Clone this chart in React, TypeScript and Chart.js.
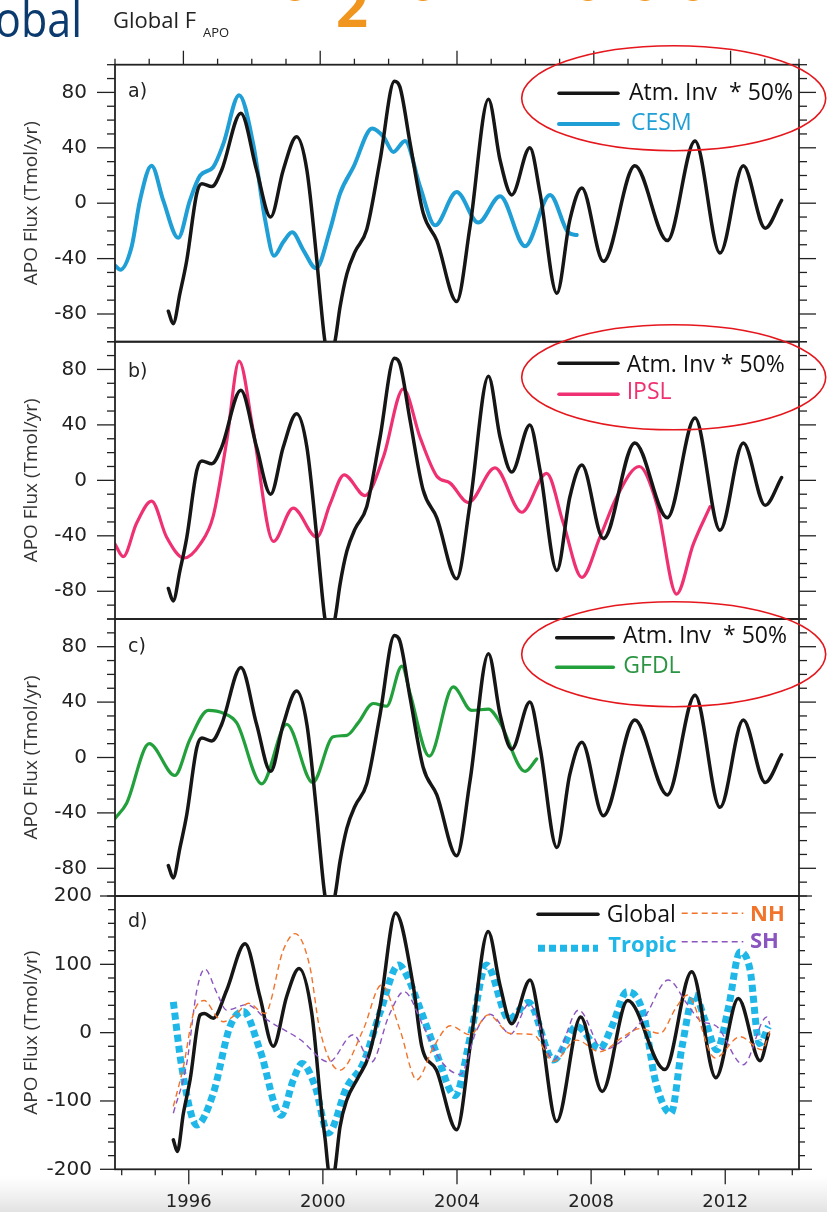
import React, { useEffect, useRef } from "react";
import { Chart, registerables } from "chart.js";

Chart.register(...registerables);

const W = 827;
const H = 1212;

// ---- axis ticks ----
const xTickYears = [1996, 2000, 2004, 2008, 2012];
const yTicksABC = [-80, -40, 0, 40, 80];
const yTicksD = [-200, -100, 0, 100, 200];

// ---- panels a-c : Atm. Inv * 50% (black) ----
const atmYears = [1995.56, 1995.7, 1995.9, 1996.1, 1996.39, 1996.54, 1996.83, 1997.12, 1997.68, 1998.14, 1998.55, 1998.92, 1999.31, 1999.61, 1999.9, 1999.99, 2000.14, 2000.28, 2000.43, 2000.58, 2000.78, 2001.02, 2001.36, 2001.75, 2002.17, 2002.33, 2002.63, 2003.01, 2003.41, 2003.99, 2004.38, 2004.92, 2005.26, 2005.6, 2006.13, 2006.43, 2006.92, 2007.3, 2007.65, 2008.28, 2009.2, 2010.15, 2010.96, 2011.69, 2012.37, 2013.01, 2013.49];
const atmValues = [-78, -87, -65, -41, 7, 14, 12, 24, 65, 24, -10, 24, 48, 24, -41, -65, -100, -110, -100, -75, -51, -35, -19, 31, 88, 84, 43, -7, -27, -71, -17, 75, 31, 6, 40, 7, -65, -12, 11, -42, 27, -27, 45, -36, 27, -18, 2];

// ---- panel a : CESM ----
const cesmYears = [1994.0, 1994.15, 1994.49, 1994.73, 1995.07, 1995.41, 1995.85, 1996.19, 1996.49, 1996.87, 1997.17, 1997.63, 1998.04, 1998.39, 1998.65, 1998.92, 1999.18, 1999.51, 1999.88, 2000.29, 2000.58, 2000.97, 2001.52, 2001.85, 2002.14, 2002.48, 2002.92, 2003.36, 2003.99, 2004.62, 2005.26, 2005.99, 2006.72, 2007.25, 2007.5];
const cesmValues = [-45, -48, -31, 2, 27, 2, -25, 2, 20, 26, 43, 78, 43, -12, -38, -28, -21, -34, -47, -19, 7, 26, 54, 48, 37, 45, 12, -16, 8, -14, 5, -31, 6, -21, -23];

// ---- panel b : IPSL ----
const ipslYears = [1994.0, 1994.24, 1994.63, 1995.07, 1995.51, 1996.02, 1996.49, 1996.87, 1997.27, 1997.63, 1998.04, 1998.63, 1999.21, 1999.9, 2000.29, 2000.7, 2001.31, 2001.85, 2002.43, 2002.92, 2003.41, 2003.8, 2004.33, 2005.11, 2005.89, 2006.62, 2007.11, 2007.65, 2008.18, 2008.67, 2009.33, 2009.84, 2010.42, 2010.91, 2011.4];
const ipslValues = [-46, -55, -31, -15, -41, -56, -46, -26, 29, 86, 36, -44, -20, -41, -17, 4, -11, 17, 66, 31, 3, -2, -16, 9, -23, 5, -31, -70, -41, -12, 10, -17, -82, -46, -19];

// ---- panel c : GFDL ----
const gfdlYears = [1994.0, 1994.34, 1995.0, 1995.75, 1996.19, 1996.73, 1997.17, 1997.56, 1998.29, 1999.02, 1999.78, 2000.38, 2000.78, 2001.11, 2001.55, 2001.94, 2002.39, 2002.63, 2003.19, 2003.89, 2004.43, 2004.92, 2005.26, 2005.99, 2006.33];
const gfdlValues = [-44, -33, 10, -13, 13, 34, 32, 25, -19, 24, -18, 15, 16, 25, 39, 37, 66, 46, 1, 51, 34, 35, 25, -10, -1];

// ---- panel d : Global / Tropic / NH / SH ----
const globalYears = [1995.54, 1995.66, 1995.84, 1996.04, 1996.34, 1996.47, 1996.73, 1997.13, 1997.68, 1998.12, 1998.52, 1998.92, 1999.29, 1999.67, 1999.97, 2000.07, 2000.16, 2000.26, 2000.36, 2000.51, 2000.71, 2001.06, 2001.36, 2001.71, 2002.17, 2002.7, 2002.95, 2003.39, 2003.99, 2004.43, 2004.93, 2005.28, 2005.63, 2006.18, 2006.48, 2006.97, 2007.69, 2008.33, 2009.09, 2010.2, 2011.0, 2011.72, 2012.39, 2013.04, 2013.29];
const globalValues = [-157, -174, -118, -69, 26, 28, 21, 62, 130, 53, -20, 53, 94, 28, -118, -157, -200, -222, -200, -138, -99, -65, -35, 40, 175, 67, -20, -55, -142, -6, 148, 70, 13, 77, 12, -130, 23, -86, 47, -54, 89, -66, 50, -41, -2];

const tropicYears = [1995.54, 1995.79, 1996.24, 1996.73, 1997.23, 1997.63, 1998.12, 1998.75, 1999.12, 1999.38, 1999.77, 2000.16, 2000.71, 2001.2, 2001.71, 2002.26, 2002.5, 2002.9, 2003.39, 2003.94, 2004.41, 2004.88, 2005.55, 2006.13, 2006.88, 2007.57, 2008.26, 2008.62, 2009.07, 2009.56, 2009.91, 2010.38, 2010.71, 2011.08, 2011.4, 2011.75, 2012.1, 2012.44, 2012.74, 2013.02, 2013.29];
const tropicValues = [45, -50, -135, -89, 9, 31, -25, -121, -69, -45, -79, -147, -80, -45, 30, 99, 84, 35, -30, -92, -3, 99, 20, 44, -40, 9, -23, 9, 60, 28, -69, -118, -21, 55, 18, -25, 38, 118, 92, -16, 9];

const nhYears = [1995.54, 1995.84, 1996.14, 1996.46, 1996.84, 1997.03, 1997.43, 1997.78, 1998.27, 1998.82, 1999.17, 1999.61, 1999.91, 2000.51, 2001.2, 2001.75, 2002.3, 2002.8, 2003.3, 2003.8, 2004.39, 2004.93, 2005.58, 2006.28, 2006.88, 2007.57, 2008.26, 2008.96, 2009.46, 2010.05, 2010.55, 2010.87, 2011.7, 2012.44, 2013.1, 2013.33];
const nhValues = [-108, -50, 28, 47, 23, 16, 28, 43, 28, 121, 145, 97, 4, -55, 4, 70, 4, -69, -21, 10, -3, 26, -1, -3, -42, -11, -28, -6, 6, -1, 38, 55, -37, -6, -25, 2];

const shYears = [1995.54, 1995.94, 1996.24, 1996.48, 1996.84, 1997.13, 1997.73, 1998.33, 1999.32, 2000.18, 2000.9, 2001.45, 2001.97, 2002.42, 2003.0, 2003.5, 2004.1, 2004.59, 2004.98, 2005.6, 2006.15, 2006.88, 2007.63, 2008.36, 2009.06, 2009.6, 2010.3, 2010.85, 2011.25, 2011.75, 2012.54, 2013.24, 2013.33];
const shValues = [-118, -45, 62, 93, 58, 33, 41, 19, -10, -43, -3, -43, 25, 60, 9, -40, -61, 4, 27, -2, 42, -40, 33, -25, -6, 23, 77, 43, 18, 9, -47, 23, 12];

// ---- colours ----
const BLACK = "#161616";
const CESM = "#1f9fd6";
const IPSL = "#ef3072";
const GFDL = "#22a03c";
const TROPIC = "#1fb6e8";
const NH = "#f2732a";
const SH = "#8b55c0";

const pts = (xs: number[], ys: number[]) => xs.map((x, i) => ({ x, y: ys[i] }));

const ds = (label: string, xs: number[], ys: number[], color: string, width: number, yAxisID: string, xAxisID: string, dash?: number[]) => ({
  label,
  data: pts(xs, ys),
  borderColor: color,
  backgroundColor: color,
  borderWidth: width,
  borderDash: dash || [],
  borderCapStyle: dash ? "butt" : "round",
  borderJoinStyle: "round",
  pointRadius: 0,
  pointHoverRadius: 0,
  fill: false,
  tension: 0.4,
  cubicInterpolationMode: "monotone",
  clip: 0,
  yAxisID,
  xAxisID,
});

const yScale = (weight: number, stackWeight: number, ticksArr: number[], min: number, max: number, tickLength: number, padding: number) => ({
  type: "linear",
  position: "left",
  stack: "panels",
  stackWeight,
  weight,
  min,
  max,
  afterBuildTicks: (s: any) => {
    s.ticks = ticksArr.map((v) => ({ value: v }));
  },
  afterFit: (s: any) => {
    s.width = 115;
  },
  ticks: {
    font: { family: "DejaVu Sans", size: 20 },
    color: "#222",
    padding,
    autoSkip: false,
    callback: (v: any) => String(v),
  },
  grid: { display: false, drawTicks: true, tickLength },
  border: { display: false },
  title: {
    display: true,
    text: "APO Flux (Tmol/yr)",
    font: { family: "Open Sans", size: 19 },
    color: "#333",
    padding: { top: 20, bottom: 0 },
  },
});

const decor = {
  id: "decor",
  beforeDraw(chart: any) {
    const ctx = chart.ctx;
    ctx.save();
    ctx.fillStyle = "#ffffff";
    ctx.fillRect(0, 0, W, H);
    const g = ctx.createLinearGradient(0, 1176, 0, H);
    g.addColorStop(0, "rgba(232,232,232,0)");
    g.addColorStop(1, "rgba(226,226,226,1)");
    ctx.fillStyle = g;
    ctx.fillRect(0, 1176, W, H - 1176);
    ctx.restore();
  },
  afterDraw(chart: any) {
    const ctx = chart.ctx;
    const L = chart.chartArea.left;
    const R = chart.chartArea.right;
    const sc = chart.scales;
    ctx.save();
    const seg = (x1: number, y1: number, x2: number, y2: number) => {
      ctx.beginPath();
      ctx.moveTo(x1, y1);
      ctx.lineTo(x2, y2);
      ctx.stroke();
    };
    ctx.strokeStyle = "#222";
    ctx.lineWidth = 1.3;
    const panels = [
      { s: sc.ya, step: 10, majors: yTicksABC, lMaj: 18, lMin: 8, rMaj: 17, rMin: 8 },
      { s: sc.yb, step: 10, majors: yTicksABC, lMaj: 18, lMin: 8, rMaj: 17, rMin: 8 },
      { s: sc.yc, step: 10, majors: yTicksABC, lMaj: 18, lMin: 8, rMaj: 17, rMin: 8 },
      { s: sc.yd, step: 20, majors: yTicksD, lMaj: 15, lMin: 7, rMaj: 13, rMin: 6 },
    ];
    for (const p of panels) {
      const s = p.s;
      for (let v = s.min; v <= s.max + 1e-6; v += p.step) {
        const y = s.getPixelForValue(v);
        const major = p.majors.includes(v);
        seg(L - (major ? p.lMaj : p.lMin), y, L, y);
        seg(R, y, R + (major ? p.rMaj : p.rMin), y);
      }
    }
    for (let yr = 1994; yr <= 2014; yr++) {
      const major = (yr - 1996) % 4 === 0;
      const xb = sc.x.getPixelForValue(yr);
      seg(xb, sc.yd.bottom, xb, sc.yd.bottom + (major ? 15 : 6));
      const xt = sc.xTop.getPixelForValue(yr);
      seg(xt, sc.ya.top, xt, sc.ya.top - (major ? 14 : 6));
    }
    ctx.lineWidth = 1.8;
    for (const p of panels) ctx.strokeRect(L, p.s.top, R - L, p.s.bottom - p.s.top);

    // panel labels
    ctx.fillStyle = "#222";
    ctx.font = "19px 'DejaVu Sans'";
    ctx.textAlign = "left";
    ctx.textBaseline = "alphabetic";
    ctx.fillText("a)", 128, 96.7);
    ctx.fillText("b)", 128, 376.7);
    ctx.fillText("c)", 128, 651.7);
    ctx.fillText("d)", 128, 926.7);

    const legLine = (x1: number, x2: number, y: number, color: string, w: number, dash?: number[]) => {
      ctx.save();
      ctx.strokeStyle = color;
      ctx.lineWidth = w;
      ctx.setLineDash(dash || []);
      ctx.lineCap = dash ? "butt" : "round";
      seg(x1, y, x2, y);
      ctx.restore();
    };
    const txt = (s: string, x: number, y: number, font: string, color: string) => {
      ctx.font = font;
      ctx.fillStyle = color;
      ctx.fillText(s, x, y);
    };
    const reg = "23px 'Open Sans'";
    const bold = "bold 22px 'Open Sans'";
    // legend a
    legLine(559, 618, 93.3, BLACK, 3.5);
    txt("Atm. Inv  * 50%", 629, 99.5, reg, "#111");
    legLine(559, 618, 124, CESM, 4);
    txt("CESM", 631, 130, reg, CESM);
    // legend b
    legLine(559, 618, 363.3, BLACK, 3.5);
    txt("Atm. Inv * 50%", 626.7, 371.7, reg, "#111");
    legLine(559, 618, 394.3, IPSL, 3.5);
    txt("IPSL", 626.7, 399.3, reg, IPSL);
    // legend c
    legLine(556.7, 613.3, 637.7, BLACK, 3.5);
    txt("Atm. Inv  * 50%", 623, 643.3, reg, "#111");
    legLine(556.7, 613.3, 667.3, GFDL, 3.5);
    txt("GFDL", 623.3, 672.7, reg, "#2b9544");
    // legend d
    legLine(538, 598, 914.3, BLACK, 3.5);
    txt("Global", 606.7, 921.7, reg, "#111");
    legLine(681.7, 743.3, 913.3, NH, 1.4, [6, 4]);
    txt("NH", 750, 920.7, bold, NH);
    legLine(538, 598, 948.3, TROPIC, 7, [7, 4]);
    txt("Tropic", 608.3, 951.7, bold, TROPIC);
    legLine(681.7, 743.3, 941.7, SH, 1.4, [6, 4]);
    txt("SH", 750, 948.3, bold, SH);

    // red ellipses
    ctx.strokeStyle = "#e5161c";
    ctx.lineWidth = 1.6;
    for (const cy of [98.2, 377.3, 654.2]) {
      ctx.beginPath();
      ctx.ellipse(673.7, cy, 152, 52.5, 0, 0, Math.PI * 2);
      ctx.stroke();
    }

    // header
    ctx.save();
    ctx.translate(82, 37);
    ctx.scale(0.86, 1);
    ctx.textAlign = "right";
    ctx.font = "50px 'Open Sans'";
    ctx.fillStyle = "#0b3a6e";
    ctx.fillText("obal", 0, 0);
    ctx.restore();
    ctx.textAlign = "left";
    txt("Global F", 113, 28, "22px 'Open Sans'", "#222");
    txt("APO", 203, 37, "13px 'Open Sans'", "#222");
    txt("2", 336, 27, "bold 56px 'Open Sans'", "#f0961e");
    ctx.textAlign = "center";
    ctx.font = "bold 40px 'Open Sans'";
    ctx.fillStyle = "#f0961e";
    for (const fx of [295, 423, 588, 645, 693]) ctx.fillText("o", fx, 1.2);
    ctx.restore();
  },
};

export default function App() {
  const ref = useRef<HTMLCanvasElement>(null);
  useEffect(() => {
    const canvas = ref.current;
    if (!canvas) return;
    const chart = new Chart(canvas, {
      type: "line",
      data: {
        datasets: [
          ds("Atm. Inv * 50%", atmYears, atmValues, BLACK, 3.5, "ya", "xTop"),
          ds("Atm. Inv * 50% ", atmYears, atmValues, BLACK, 3.5, "yb", "xTop"),
          ds("Atm. Inv * 50%  ", atmYears, atmValues, BLACK, 3.5, "yc", "xTop"),
          ds("NH", nhYears, nhValues, NH, 1.4, "yd", "x", [6, 4]),
          ds("SH", shYears, shValues, SH, 1.4, "yd", "x", [6, 4]),
          ds("Global", globalYears, globalValues, BLACK, 3.5, "yd", "x"),
          ds("Tropic", tropicYears, tropicValues, TROPIC, 7, "yd", "x", [7, 4]),
          ds("CESM", cesmYears, cesmValues, CESM, 4, "ya", "xTop"),
          ds("IPSL", ipslYears, ipslValues, IPSL, 3.2, "yb", "xTop"),
          ds("GFDL", gfdlYears, gfdlValues, GFDL, 3.2, "yc", "xTop"),
        ] as any,
      },
      options: {
        responsive: false,
        animation: false,
        devicePixelRatio: 1,
        events: [],
        layout: { padding: { left: 0, top: 64.7, right: 28, bottom: 0 } },
        plugins: { legend: { display: false }, tooltip: { enabled: false }, title: { display: false } },
        scales: {
          x: {
            type: "linear",
            position: "bottom",
            min: 1993.8,
            max: 2014.2,
            afterBuildTicks: (s: any) => {
              s.ticks = xTickYears.map((v) => ({ value: v }));
            },
            afterFit: (s: any) => {
              s.height = H - 1169.3;
            },
            ticks: {
              font: { family: "DejaVu Sans", size: 18 },
              color: "#222",
              padding: 7,
              maxRotation: 0,
              autoSkip: false,
              callback: (v: any) => String(v),
            },
            grid: { display: false, drawTicks: true, tickLength: 15 },
            border: { display: false },
          },
          xTop: { type: "linear", position: "top", display: false, min: 1994, max: 2014 },
          ya: yScale(4, 277, yTicksABC, -100, 100, 18, 10),
          yb: yScale(3, 277.3, yTicksABC, -100, 100, 18, 10),
          yc: yScale(2, 277, yTicksABC, -100, 100, 18, 10),
          yd: yScale(1, 273.3, yTicksD, -200, 200, 15, 8),
        } as any,
      },
      plugins: [decor],
    } as any);
    return () => chart.destroy();
  }, []);
  return (
    <div style={{ position: "absolute", left: 0, top: 0, width: W, height: H, background: "#fff" }}>
      <canvas ref={ref} width={W} height={H} style={{ display: "block", width: W, height: H }} />
    </div>
  );
}
